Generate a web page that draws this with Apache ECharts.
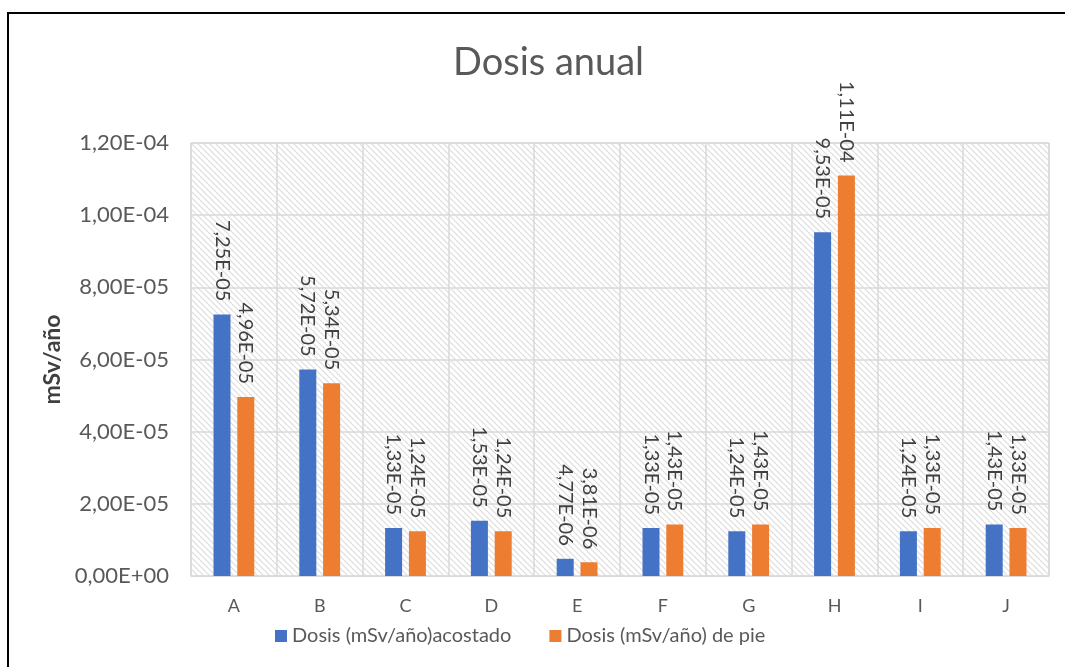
<!DOCTYPE html>
<html>
<head>
<meta charset="utf-8">
<script src="https://cdn.jsdelivr.net/npm/echarts@6/dist/echarts.min.js"></script>
<style>
  html, body { margin: 0; padding: 0; background: #fff; }
  #frame { position: absolute; left: 7px; top: 12px; width: 1100px; height: 700px;
           border-top: 2px solid #000; border-left: 2px solid #000; }
  #chart { position: absolute; left: 0; top: 0; width: 1065px; height: 667px; }
</style>
</head>
<body>
<div id="frame"></div>
<div id="chart"></div>
<script>
// Categories and dose values (mSv/año)
const categories = ['A', 'B', 'C', 'D', 'E', 'F', 'G', 'H', 'I', 'J'];
const acostado = [7.25e-5, 5.72e-5, 1.33e-5, 1.53e-5, 4.77e-6, 1.33e-5, 1.24e-5, 9.53e-5, 1.24e-5, 1.43e-5];
const dePie   = [4.96e-5, 5.34e-5, 1.24e-5, 1.24e-5, 3.81e-6, 1.43e-5, 1.43e-5, 1.11e-4, 1.33e-5, 1.33e-5];
const seriesNames = ['Dosis (mSv/año)acostado', 'Dosis (mSv/año) de pie'];
const yMin = 0, yMax = 1.2e-4, yStep = 2e-5;

// Scientific notation with comma decimals, e.g. 7,25E-05
function sci(v) {
  const s = Number(v).toExponential(2);
  const [m, e] = s.split('e');
  const n = parseInt(e, 10);
  const exp = (n < 0 ? '-' : '+') + String(Math.abs(n)).padStart(2, '0');
  return m.replace('.', ',') + 'E' + exp;
}

// Diagonal hatch fill for the plot background
const hatch = document.createElement('canvas');
hatch.width = 6; hatch.height = 6;
const hc = hatch.getContext('2d');
hc.fillStyle = '#ffffff';
hc.fillRect(0, 0, 6, 6);
hc.strokeStyle = '#dcdcdc';
hc.lineWidth = 1.1;
hc.beginPath();
hc.moveTo(-1, -1); hc.lineTo(7, 7);
hc.moveTo(-4, 2); hc.lineTo(4, 10);
hc.moveTo(2, -4); hc.lineTo(10, 4);
hc.stroke();

const font = 'Lato, "Open Sans", sans-serif';
const chart = echarts.init(document.getElementById('chart'), null, { renderer: 'canvas' });

const labelCfg = {
  show: true,
  position: 'top',
  rotate: -90,
  align: 'right',
  verticalAlign: 'middle',
  distance: 13,
  color: '#404040',
  fontSize: 20,
  fontFamily: font,
  formatter: p => sci(p.value)
};

chart.setOption({
  animation: false,
  title: {
    text: 'Dosis anual',
    left: 448,
    top: 39,
    textStyle: { fontFamily: font, fontSize: 38, fontWeight: 'normal', color: '#595959' }
  },
  legend: {
    bottom: 16,
    left: 270,
    itemWidth: 12,
    itemHeight: 12,
    itemGap: 38,
    icon: 'rect',
    textStyle: { fontFamily: font, fontSize: 20, color: '#595959' },
    data: seriesNames
  },
  grid: {
    left: 191, right: 16, top: 143, bottom: 91,
    show: true,
    backgroundColor: { image: hatch, repeat: 'repeat' },
    borderColor: '#d9d9d9',
    borderWidth: 1
  },
  xAxis: {
    type: 'category',
    data: categories,
    axisLine: { show: true, lineStyle: { color: '#d9d9d9' } },
    axisTick: { show: false },
    splitLine: { show: true, lineStyle: { color: '#d9d9d9', width: 1.5 } },
    axisLabel: { color: '#595959', fontSize: 18, fontFamily: font, margin: 21 }
  },
  yAxis: {
    type: 'value',
    min: yMin, max: yMax, interval: yStep,
    name: 'mSv/año',
    nameLocation: 'middle',
    nameGap: 122,
    nameTextStyle: { fontFamily: font, fontSize: 23, fontWeight: 'bold', color: '#404040' },
    axisLine: { show: false },
    axisTick: { show: false },
    splitLine: { lineStyle: { color: '#d9d9d9', width: 1.5 } },
    axisLabel: { color: '#595959', fontSize: 22, fontFamily: font, margin: 22, formatter: v => sci(v) }
  },
  series: [
    {
      name: seriesNames[0], type: 'bar', data: acostado,
      barWidth: 17, barGap: '40%',
      itemStyle: { color: '#4472C4' },
      label: labelCfg
    },
    {
      name: seriesNames[1], type: 'bar', data: dePie,
      barWidth: 17,
      itemStyle: { color: '#ED7D31' },
      label: labelCfg
    }
  ]
});
</script>
</body>
</html>
